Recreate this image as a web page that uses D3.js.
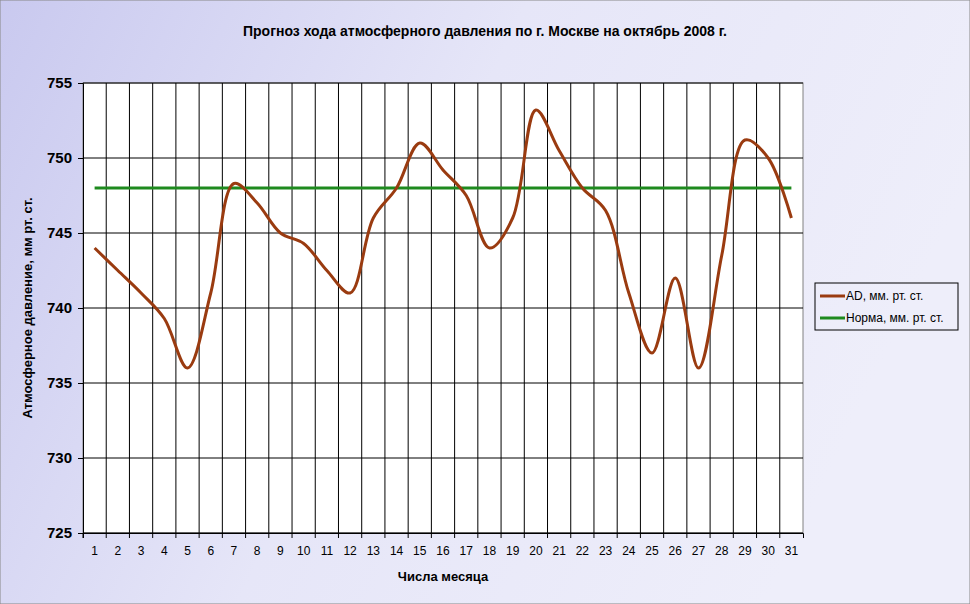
<!DOCTYPE html>
<html><head><meta charset="utf-8">
<script src="https://cdn.jsdelivr.net/npm/d3@7"></script>
<style>body{margin:0}svg{font-family:Arial,"Liberation Sans",sans-serif}</style>
</head><body><svg id="c" width="970" height="604"></svg>
<script>
const days = d3.range(1, 32);
const adValues = [744, 742.5, 741, 739.3, 736, 741, 748.3, 747, 745, 744.3, 742.5, 741, 746, 748, 751, 749.2, 747.5, 744, 746, 753.2, 750.5, 748, 746.5, 741, 737, 742, 736, 743.5, 751.2, 750, 746];
const normValue = 748;
const yTicks = [725, 730, 735, 740, 745, 750, 755];
const seriesNames = ['AD, мм. рт. ст.', 'Норма, мм. рт. ст.'];
const colors = ['#9a3b10', '#1e8a1e'];

const svg = d3.select('#c');
const defs = svg.append('defs');
const grad = defs.append('linearGradient').attr('id', 'bg').attr('x1', 0).attr('y1', 0).attr('x2', 1).attr('y2', 0.3);
grad.append('stop').attr('offset', 0).attr('stop-color', '#c9c9ef');
grad.append('stop').attr('offset', 0.5).attr('stop-color', '#e6e6f8');
grad.append('stop').attr('offset', 1).attr('stop-color', '#eeeefa');
svg.append('rect').attr('width', 970).attr('height', 604).attr('fill', 'url(#bg)').attr('stroke', '#888');

const pLeft = 83, pRight = 803, pTop = 83, pBottom = 533;
const x = d3.scaleBand().domain(days).range([pLeft, pRight]);
const y = d3.scaleLinear().domain([725, 755]).range([pBottom, pTop]);

svg.append('rect').attr('x', pLeft).attr('y', pTop).attr('width', pRight - pLeft).attr('height', pBottom - pTop)
  .attr('fill', '#fff').attr('stroke', '#808080');

// vertical grid at band edges
svg.append('g').selectAll('line').data(days.slice(1)).join('line')
  .attr('x1', d => x(d)).attr('x2', d => x(d)).attr('y1', pTop).attr('y2', pBottom)
  .attr('stroke', '#000').attr('stroke-width', 1);
svg.append('g').selectAll('line').data(yTicks).join('line')
  .attr('x1', pLeft).attr('x2', pRight).attr('y1', d => y(d)).attr('y2', d => y(d))
  .attr('stroke', '#000').attr('stroke-width', 1);

const yAxis = svg.append('g').attr('transform', `translate(${pLeft},0)`)
  .call(d3.axisLeft(y).tickValues(yTicks).tickSize(5).tickPadding(6));
yAxis.select('.domain').attr('stroke', '#000');
yAxis.selectAll('text').attr('font-size', 15).attr('font-weight', 'bold').attr('fill', '#000');

const xAxis = svg.append('g').attr('transform', `translate(0,${pBottom})`)
  .call(d3.axisBottom(x).tickSize(5).tickPadding(8));
xAxis.select('.domain').attr('stroke', '#000');
xAxis.selectAll('.tick line').attr('transform', `translate(${-x.bandwidth() / 2},0)`);
xAxis.selectAll('text').attr('font-size', 12).attr('fill', '#000');

const cx = d => x(d) + x.bandwidth() / 2;
svg.append('line').attr('x1', cx(1)).attr('x2', cx(31)).attr('y1', y(normValue)).attr('y2', y(normValue))
  .attr('stroke', colors[1]).attr('stroke-width', 3);
svg.append('path').datum(adValues)
  .attr('d', d3.line().x((d, i) => cx(days[i])).y(d => y(d)).curve(d3.curveCatmullRom.alpha(0.5)))
  .attr('fill', 'none').attr('stroke', colors[0]).attr('stroke-width', 3);

svg.append('text').attr('x', 485).attr('y', 36).attr('text-anchor', 'middle')
  .attr('font-size', 14).attr('font-weight', 'bold').text('Прогноз хода атмосферного давления по г. Москве на октябрь 2008 г.');
svg.append('text').attr('x', 443).attr('y', 581).attr('text-anchor', 'middle')
  .attr('font-size', 13).attr('font-weight', 'bold').text('Числа месяца');
svg.append('text').attr('transform', 'translate(32,308) rotate(-90)').attr('text-anchor', 'middle')
  .attr('font-size', 13).attr('font-weight', 'bold').text('Атмосферное давление, мм рт. ст.');

const lg = svg.append('g').attr('transform', 'translate(815,283)');
lg.append('rect').attr('width', 143).attr('height', 47).attr('fill', 'none').attr('stroke', '#000');
seriesNames.forEach((n, i) => {
  const gy = 13 + i * 22;
  lg.append('line').attr('x1', 5).attr('x2', 30).attr('y1', gy).attr('y2', gy).attr('stroke', colors[i]).attr('stroke-width', 3);
  lg.append('text').attr('x', 31).attr('y', gy + 4).attr('font-size', 12).text(n);
});
</script></body></html>
